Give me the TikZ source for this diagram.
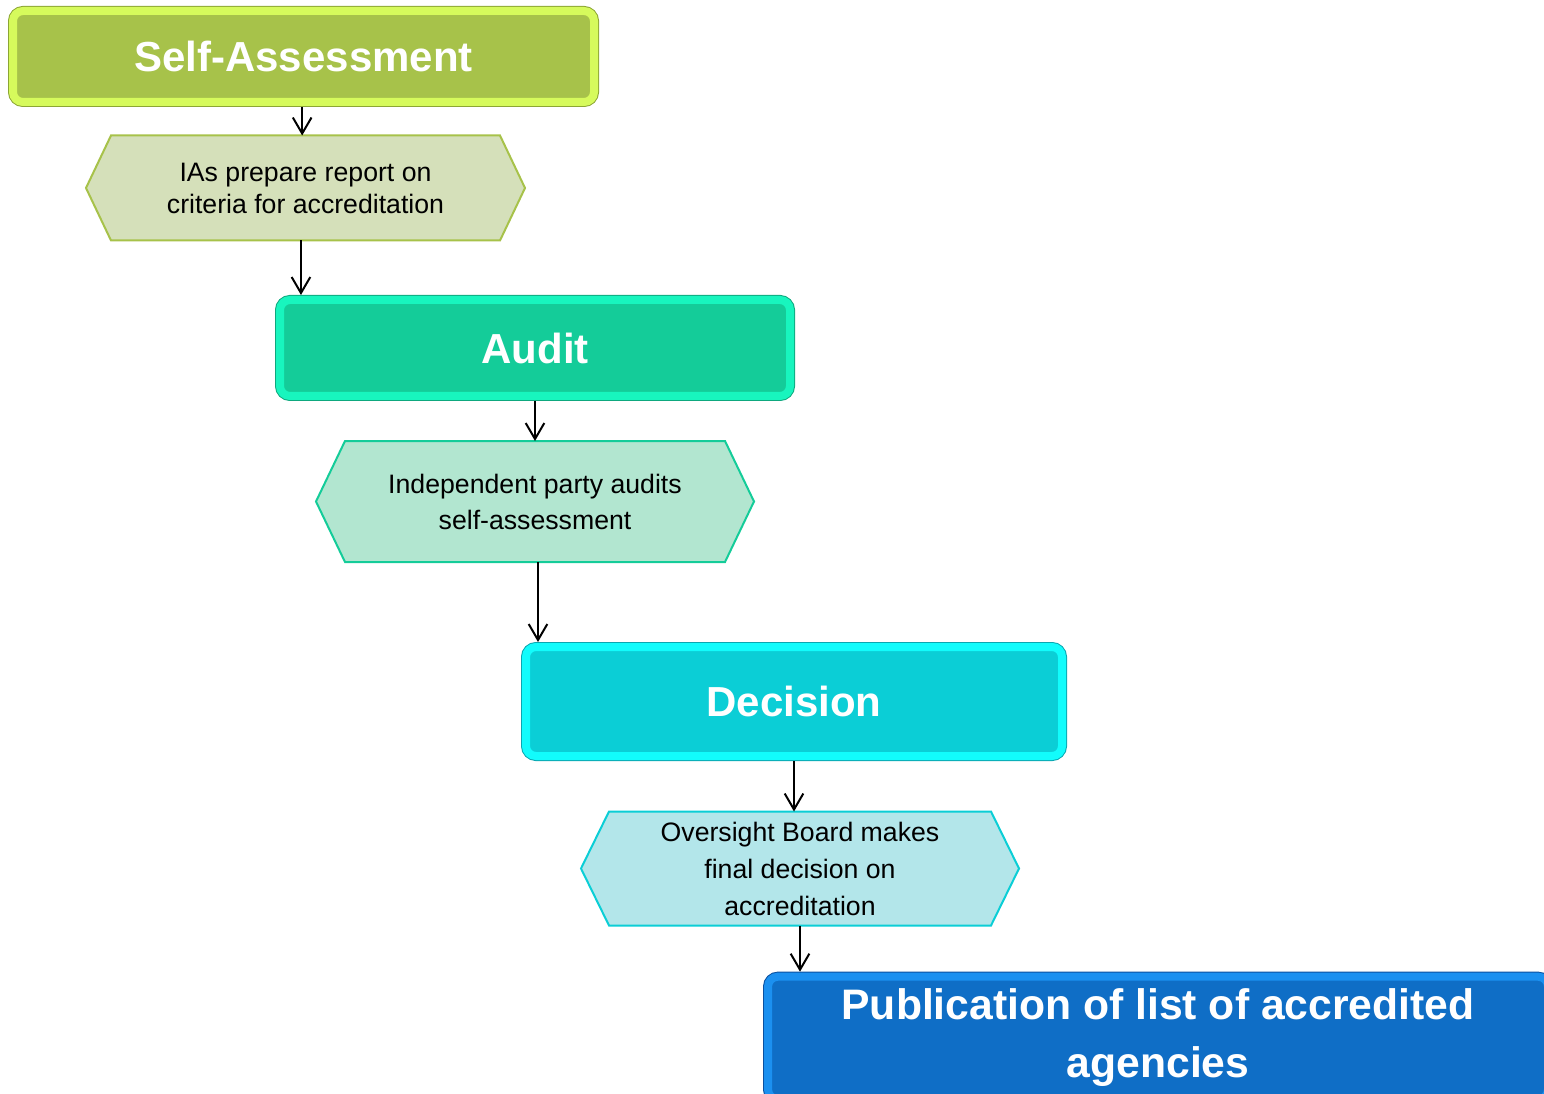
\documentclass[tikz,border=0pt]{standalone}
\usepackage{fontspec}
\setmainfont{Liberation Sans}
\usetikzlibrary{arrows.meta,backgrounds}

\definecolor{saFill}{RGB}{167,194,74}
\definecolor{saRim}{RGB}{214,250,92}
\definecolor{saLine}{RGB}{140,166,52}
\definecolor{saHex}{RGB}{213,224,186}
\definecolor{auFill}{RGB}{20,204,153}
\definecolor{auRim}{RGB}{24,245,190}
\definecolor{auLine}{RGB}{14,168,126}
\definecolor{auHex}{RGB}{178,230,208}
\definecolor{deFill}{RGB}{11,206,214}
\definecolor{deRim}{RGB}{18,252,252}
\definecolor{deLine}{RGB}{10,166,176}
\definecolor{deHex}{RGB}{179,230,234}
\definecolor{puFill}{RGB}{15,110,198}
\definecolor{puRim}{RGB}{27,144,240}
\definecolor{puLine}{RGB}{10,80,160}

\tikzset{
  stage/.style={rounded corners=7.5pt, line width=6pt, fill=#1Fill, draw=#1Rim,
    preaction={draw=#1Line, line width=7.5pt},
    inner sep=0pt, outer sep=3.75pt, text=white, align=center,
    font=\fontsize{31.5}{43.5}\selectfont\bfseries},
  hexbox/.style={inner sep=0pt, outer sep=0pt, align=center},
  flow/.style={line width=1.5pt, -{Straight Barb[length=12pt,width=14pt,line width=1.5pt]}}
}

\begin{document}
\begin{tikzpicture}[x=0.75pt,y=0.75pt,yscale=-1,xscale=1]
\useasboundingbox (0,0) rectangle (1544,1094);
\clip (0,0) rectangle (1544,1094);

%Shape: Rounded Rect [id:sa]
\node[stage=sa, minimum width=435.75pt, minimum height=68.25pt] (sa) at (303.5,56.5) {Self-Assessment};
% Text Node
\node[hexbox, minimum width=329.25pt, minimum height=78.75pt, font=\fontsize{20}{24}\selectfont] (ias) at (305.5,188) {IAs prepare report on\\criteria for accreditation};

%Shape: Rounded Rect [id:audit]
\node[stage=au, minimum width=382.5pt, minimum height=72pt] (audit) at (535,348) {Audit};
% Text Node
\node[hexbox, minimum width=328.5pt, minimum height=90.75pt, font=\fontsize{20}{27}\selectfont] (party) at (535,501.5) {Independent party audits\\self-assessment};

%Shape: Rounded Rect [id:decision]
\node[stage=de, minimum width=402pt, minimum height=81.75pt] (decision) at (794,701.5) {Decision};
% Text Node
\node[hexbox, minimum width=328.5pt, minimum height=85.5pt, font=\fontsize{20}{27.75}\selectfont] (board) at (800,868.5) {Oversight Board makes\\final decision on\\accreditation};

%Shape: Rounded Rect [id:publication]
\node[stage=pu, minimum width=585pt, minimum height=92pt, font=\fontsize{32}{43.5}\selectfont\bfseries] (publication) at (1158,1038) {Publication of list of accredited\\agencies};

%Shape: Hexagons
\begin{scope}[on background layer]
\draw[line width=1.5pt, draw=saFill, fill=saHex] (ias.west) -- ([xshift=18.75pt]ias.north west) -- ([xshift=-18.75pt]ias.north east) -- (ias.east) -- ([xshift=-18.75pt]ias.south east) -- ([xshift=18.75pt]ias.south west) -- cycle ;
\draw[line width=1.5pt, draw=auFill, fill=auHex] (party.west) -- ([xshift=21.75pt]party.north west) -- ([xshift=-21.75pt]party.north east) -- (party.east) -- ([xshift=-21.75pt]party.south east) -- ([xshift=21.75pt]party.south west) -- cycle ;
\draw[line width=1.5pt, draw=deFill, fill=deHex] (board.west) -- ([xshift=21pt]board.north west) -- ([xshift=-21pt]board.north east) -- (board.east) -- ([xshift=-21pt]board.south east) -- ([xshift=21pt]board.south west) -- cycle ;
\end{scope}

%Straight Lines
\draw[flow] ([xshift=-1pt]sa.south) -- ([xshift=-1pt]sa.south |- ias.north);
\draw[flow] ([xshift=-3.4pt]ias.south) -- ([xshift=-3.4pt]ias.south |- audit.north);
\draw[flow] (audit.south) -- (party.north);
\draw[flow] ([xshift=2.25pt]party.south) -- ([xshift=2.25pt]party.south |- decision.north);
\draw[flow] (decision.south) -- (decision.south |- board.north);
\draw[flow] (board.south) -- (board.south |- publication.north);

\end{tikzpicture}
\end{document}
